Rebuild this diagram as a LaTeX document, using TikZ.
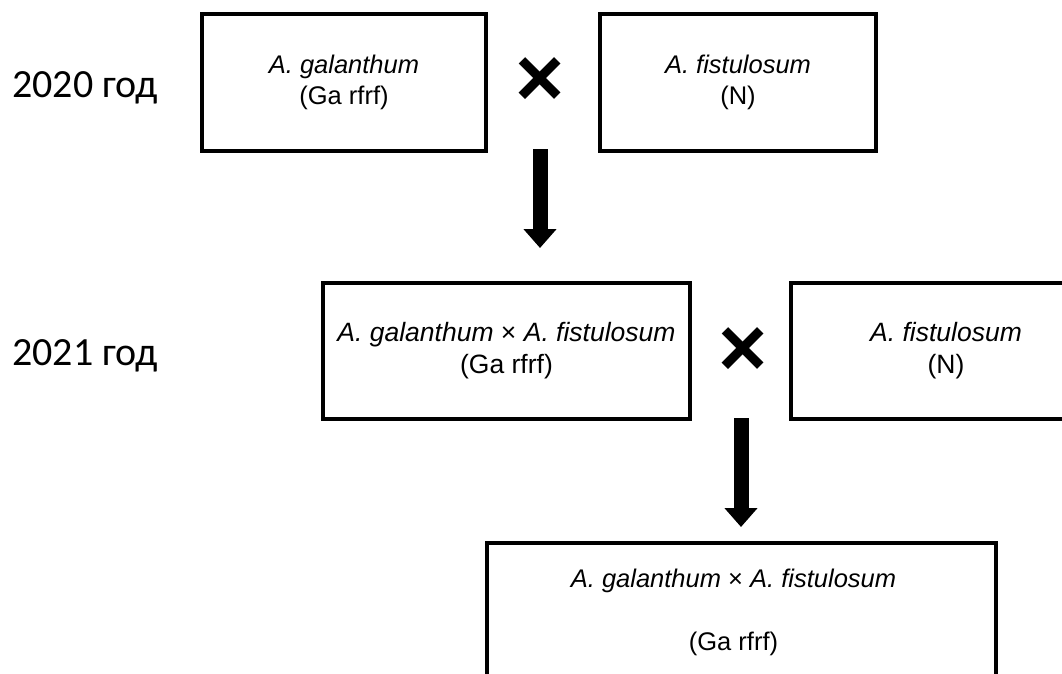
\documentclass[tikz,border=0pt]{standalone}
\usepackage{fontspec}
\setmainfont{Liberation Sans}
\newfontfamily\yearfont{Carlito}
\usetikzlibrary{arrows.meta}
\begin{document}
\begin{tikzpicture}[x=1pt,y=-1pt,
  box/.style={draw, line width=3.5pt, inner sep=0pt, align=center,
    font=\fontsize{25.5}{31.5}\selectfont},
  rowtwo/.style={font=\fontsize{26.5}{32}\selectfont},
  yearlbl/.style={anchor=base west, inner sep=0pt,
    font=\yearfont\fontsize{40}{46}\selectfont},
  crossmark/.style={inner sep=0pt, font=\fontsize{84}{84}\selectfont\bfseries},
  bigarrow/.style={line width=15pt, -{Triangle[width=32pt,length=19pt]}}
]
\useasboundingbox (0,0) rectangle (1062,673);
\clip (0,0) rectangle (1062,673);

% year labels
\node[yearlbl] (y1) at (12,97) {2020 год};
\node[yearlbl] (y2) at (12,365) {2021 год};

% boxes
\node[box, minimum width=284pt, minimum height=137pt] (b1) at (344,82.5)
  {\textit{A. galanthum}\\(Ga rfrf)};
\node[box, minimum width=276pt, minimum height=137pt] (b2) at (738,82.5)
  {\textit{A. fistulosum}\\(N)};
\node[box, rowtwo, minimum width=367pt, minimum height=136pt] (b3) at (506.5,351)
  {\textit{A. galanthum} × \textit{A. fistulosum}\\(Ga rfrf)};
\node[box, rowtwo, minimum width=310pt, minimum height=136pt] (b4) at (946,351)
  {\textit{A. fistulosum}\\(N)};
\node[box, minimum width=509pt, minimum height=138pt] (b5) at (741.5,612)
  {\textit{A. galanthum} × \textit{A. fistulosum}\hspace*{16pt}\\[31.5pt](Ga rfrf)\hspace*{16pt}};

% crosses
\node[crossmark] (x1) at (540,82) {×};
\node[crossmark] (x2) at (743,352) {×};

% arrows
\coordinate (a1s) at (540,149);
\coordinate (a1e) at (540,248);
\coordinate (a2s) at (741,418);
\coordinate (a2e) at (741,527);
\draw[bigarrow] (a1s) -- (a1e);
\draw[bigarrow] (a2s) -- (a2e);
\end{tikzpicture}
\end{document}
